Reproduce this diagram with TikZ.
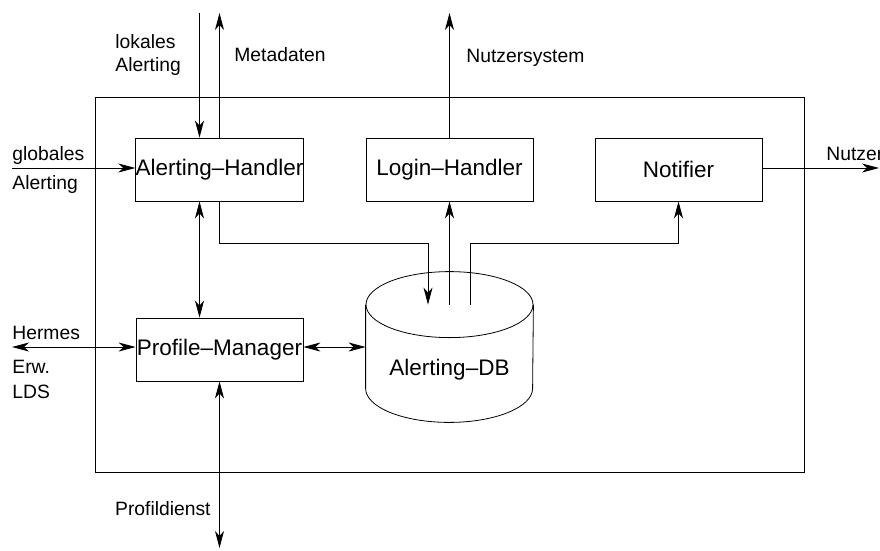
\documentclass[tikz,border=0pt]{standalone}
\usepackage{fontspec}
\setmainfont{Liberation Sans}
\usetikzlibrary{arrows.meta}
\tikzset{
    modbox/.style={draw,minimum width=167pt,minimum height=63pt,inner sep=0pt,font=\fontsize{22.5}{27}\selectfont},
    lbl/.style={inner sep=0pt,anchor=base west,font=\fontsize{19.3}{23}\selectfont},
    flow/.style={-{Stealth[length=17pt,width=9pt,inset=5pt]}},
    biflow/.style={{Stealth[length=17pt,width=9pt,inset=5pt]}-{Stealth[length=17pt,width=9pt,inset=5pt]}},
}

\begin{document}
\begin{tikzpicture}[x=1pt,y=-1pt,line width=0.8pt]
            \useasboundingbox (0,0) rectangle (880,550);
            \draw (95,97) rectangle (804,472);
            % modules
            \node[modbox] (ah) at (219.5,169.5) {Alerting--Handler};
            \node[modbox] (lh) at (449.5,169.5) {Login--Handler};
            \node[modbox] (nt) at (678.5,169.5) {Notifier};
            \node[modbox] (pm) at (219.5,349.5) {Profile--Manager};
            % database
            \node[inner sep=0pt,minimum width=167pt,minimum height=83pt] (db) at (449.5,346.5) {};
            \draw (db.north west) -- (db.south west) arc[start angle=180,end angle=0,x radius=83.5,y radius=34] -- (db.north east);
            \draw (db.north) ellipse[x radius=83.5,y radius=33];
            \node[font=\fontsize{22.5}{27}\selectfont] (dbname) at (449.5,370) {Alerting--DB};
            % free ends
            \coordinate (lok) at (199.5,13);
            \coordinate (meta) at (219.5,13);
            \coordinate (nsys) at (449.5,13);
            \coordinate (glob) at (12,168);
            \coordinate (nutz) at (879,168);
            \coordinate (herm) at (12,347);
            \coordinate (prof) at (219.5,548);
            \coordinate (ahdb) at (428,243);
            \coordinate (dbnt) at (470,243);
            % connectors
            \draw[flow] (lok) -- (lok |- ah.north);
            \draw[flow] (ah.north) -- (meta);
            \draw[flow] (glob) -- (glob -| ah.west);
            \draw[flow] (lh.north) -- (nsys);
            \draw[flow] (nutz -| nt.east) -- (nutz);
            \draw[flow] (ah.south) |- (ahdb) -- (ahdb |- db.north);
            \draw[flow] (db.north) -- (lh.south);
            \draw[flow] (dbnt |- db.north) -- (dbnt) -| (nt.south);
            \draw[biflow] (lok |- ah.south) -- (lok |- pm.north);
            \draw[biflow] (herm) -- (herm -| pm.west);
            \draw[biflow] (herm -| pm.east) -- (herm -| db.west);
            \draw[biflow] (pm.south) -- (prof);
            % labels
            \node[lbl] (llok) at (115,48) {lokales};
            \node[lbl] (llok2) at (115,71) {Alerting};
            \node[lbl] (lmeta) at (234,61) {Metadaten};
            \node[lbl] (lnsys) at (466,62) {Nutzersystem};
            \node[lbl] (lglob) at (12,160) {globales};
            \node[lbl] (lglob2) at (12,189) {Alerting};
            \node[lbl] (lnutz) at (826,160) {Nutzer};
            \node[lbl] (lherm) at (12,339) {Hermes};
            \node[lbl] (lerw) at (12,373) {Erw.};
            \node[lbl] (llds) at (12,398) {LDS};
            \node[lbl,anchor=base east] (lprof) at (211,515) {Profildienst};
\end{tikzpicture}
\end{document}
